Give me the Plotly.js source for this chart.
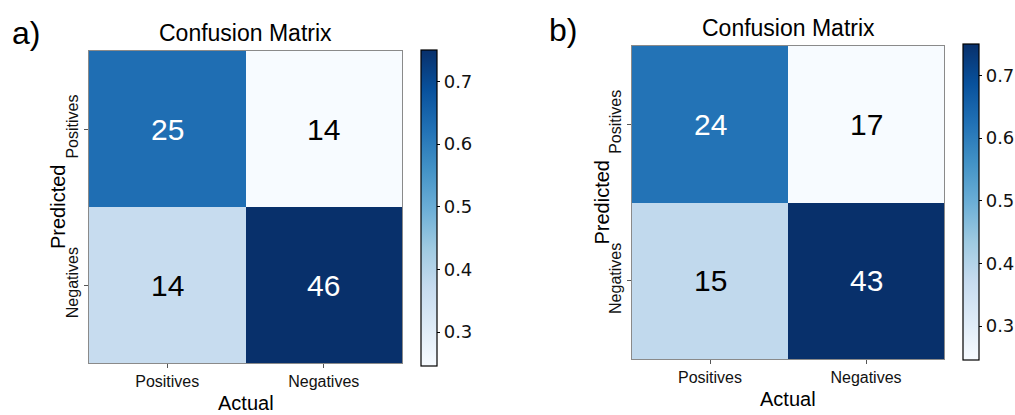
<!DOCTYPE html>
<html><head><meta charset="utf-8">
<script src="https://cdn.plot.ly/plotly-3.0.1.min.js"></script>
<style>html,body{margin:0;padding:0;background:#fff;}#chart{width:1015px;height:415px;}</style>
</head><body><div id="chart"></div>
<script>
const actualLabels = ['Positives', 'Negatives'];
const predictedLabels = ['Positives', 'Negatives'];
// counts shown in the cells (rows = predicted, columns = actual)
const countsA = [[25, 14], [14, 46]];
const countsB = [[24, 17], [15, 43]];
// colour values (estimated from the cell colours / colorbar)
const colorA = [[0.63, 0.246], [0.37, 0.75]];
const colorB = [[0.62, 0.246], [0.38, 0.75]];
const cbTicks = [0.3, 0.4, 0.5, 0.6, 0.7];
const panelLabels = ['a)', 'b)'];
const chartTitle = 'Confusion Matrix';
const xTitle = 'Actual';
const yTitle = 'Predicted';

const blues = [
  [0.0, '#f7fbff'], [0.125, '#deebf7'], [0.25, '#c6dbef'], [0.375, '#9ecae1'],
  [0.5, '#6baed6'], [0.625, '#4292c6'], [0.75, '#2171b5'], [0.875, '#08519c'], [1.0, '#08306b']
];
const ZMIN = 0.246, ZMAX = 0.75;
const W = 1015, H = 415;
const px = v => v / W, py = v => 1 - v / H;

const panels = [
  {counts: countsA, colors: colorA, xa: 'x', ya: 'y', L: 89, R: 402, T: 51, B: 363, cbL: 421, cbT: 50, cbB: 366, lab: [10, 33], tit: 33},
  {counts: countsB, colors: colorB, xa: 'x2', ya: 'y2', L: 632, R: 944, T: 46, B: 359, cbL: 963, cbT: 44, cbB: 360, lab: [547, 30], tit: 28}
];

const traces = [], annotations = [];
const layout = {
  width: W, height: H, margin: {l: 0, r: 0, t: 0, b: 0},
  paper_bgcolor: '#fff', plot_bgcolor: '#fff',
  font: {family: 'Liberation Sans, Arial, sans-serif', color: '#000'},
  showlegend: false
};

panels.forEach((p, i) => {
  const cbLen = p.cbB - p.cbT;
  traces.push({
    type: 'heatmap', x: actualLabels, y: predictedLabels, z: p.colors,
    xaxis: p.xa, yaxis: p.ya, colorscale: blues, zmin: ZMIN, zmax: ZMAX,
    xgap: 0, ygap: 0, hoverinfo: 'skip',
    colorbar: {
      x: px(p.cbL), xanchor: 'left', y: py(p.cbT), yanchor: 'top',
      lenmode: 'pixels', len: cbLen, thicknessmode: 'pixels', thickness: 16,
      xpad: 0, ypad: 0, outlinewidth: 1.2, outlinecolor: '#000',
      tickvals: cbTicks, ticktext: cbTicks.map(v => v.toFixed(1)),
      ticks: 'outside', ticklen: 3, tickcolor: '#000', tickwidth: 1,
      tickfont: {family: 'DejaVu Sans, sans-serif', size: 18, color: '#111'}
    }
  });
  const xk = i === 0 ? 'xaxis' : 'xaxis2';
  const yk = i === 0 ? 'yaxis' : 'yaxis2';
  layout[xk] = {
    domain: [px(p.L), px(p.R)], anchor: p.ya, type: 'category',
    categoryorder: 'array', categoryarray: actualLabels,
    showline: true, mirror: true, linecolor: '#8a8a8a', linewidth: 1,
    ticks: 'outside', ticklen: 4, tickcolor: '#555', showgrid: false, zeroline: false,
    tickfont: {size: 16, color: '#111'}, fixedrange: true
  };
  layout[yk] = {
    domain: [py(p.B), py(p.T)], anchor: p.xa, type: 'category',
    categoryorder: 'array', categoryarray: predictedLabels, autorange: 'reversed',
    showline: true, mirror: true, linecolor: '#8a8a8a', linewidth: 1,
    ticks: 'outside', ticklen: 4, tickcolor: '#555', showgrid: false, zeroline: false,
    tickangle: -90, tickfont: {size: 16, color: '#111'}, fixedrange: true
  };
  // cell counts
  p.counts.forEach((row, r) => row.forEach((c, k) => {
    const v = p.colors[r][k];
    annotations.push({
      xref: p.xa, yref: p.ya, x: actualLabels[k], y: predictedLabels[r],
      text: String(c), showarrow: false,
      font: {size: 30, color: (v - ZMIN) / (ZMAX - ZMIN) > 0.5 ? '#fff' : '#000'}
    });
  }));
  // title
  annotations.push({xref: 'paper', yref: 'paper', x: px((p.L + p.R) / 2), y: py(p.tit),
    text: chartTitle, showarrow: false, xanchor: 'center', yanchor: 'middle', font: {size: 23, color: '#000'}});
  // panel letter
  annotations.push({xref: 'paper', yref: 'paper', x: px(p.lab[0]), y: py(p.lab[1]),
    text: panelLabels[i], showarrow: false, xanchor: 'left', yanchor: 'middle', font: {size: 32, color: '#000'}});
  // axis titles
  annotations.push({xref: 'paper', yref: 'paper', x: px((p.L + p.R) / 2), y: py(p.B + 40),
    text: xTitle, showarrow: false, xanchor: 'center', yanchor: 'middle', font: {size: 20, color: '#000'}});
  annotations.push({xref: 'paper', yref: 'paper', x: px(p.L - 31), y: py((p.T + p.B) / 2),
    text: yTitle, showarrow: false, textangle: -90, xanchor: 'center', yanchor: 'middle', font: {size: 20, color: '#000'}});
});
layout.annotations = annotations;

Plotly.newPlot('chart', traces, layout, {displayModeBar: false, staticPlot: true});
</script>
</body></html>
